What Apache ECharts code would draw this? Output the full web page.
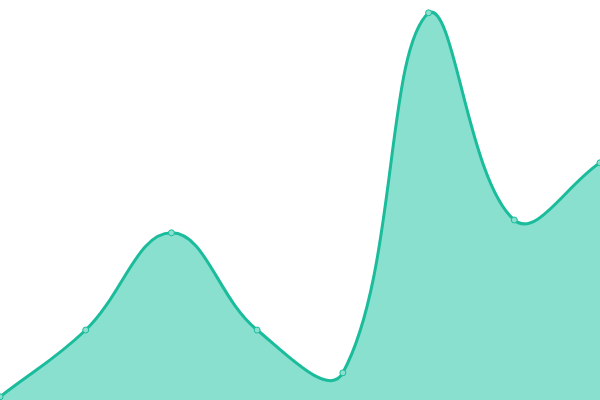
<!DOCTYPE html>
<html><head><meta charset="utf-8">
<script src="https://cdn.jsdelivr.net/npm/echarts@6/dist/echarts.min.js"></script>
<style>html,body{margin:0;padding:0;}#c{width:600px;height:400px;}</style>
</head><body><div id="c"></div>
<script>
const categories = ['1','2','3','4','5','6','7','8'];
const values = [0.8, 17.5, 41.8, 17.5, 6.8, 96.8, 45, 59.3];
const tension = 0.4;

function buildPaths(api, rect) {
  const pts = values.map((v, i) => api.coord([i, v]));
  const n = pts.length;
  const cps = pts.map((p, i) => {
    const prev = pts[i - 1] || p, next = pts[i + 1] || p;
    const d01 = Math.hypot(p[0] - prev[0], p[1] - prev[1]);
    const d12 = Math.hypot(next[0] - p[0], next[1] - p[1]);
    const sum = d01 + d12 || 1;
    const fa = tension * d01 / sum, fb = tension * d12 / sum;
    const cap = (q) => [
      Math.min(Math.max(q[0], rect.x), rect.x + rect.width),
      Math.min(Math.max(q[1], rect.y), rect.y + rect.height)
    ];
    return {
      before: cap([p[0] - fa * (next[0] - prev[0]), p[1] - fa * (next[1] - prev[1])]),
      after: cap([p[0] + fb * (next[0] - prev[0]), p[1] + fb * (next[1] - prev[1])])
    };
  });
  let d = 'M' + pts[0][0] + ',' + pts[0][1];
  for (let i = 1; i < n; i++) {
    const c1 = cps[i - 1].after, c2 = cps[i].before, p = pts[i];
    d += ' C' + c1[0] + ',' + c1[1] + ' ' + c2[0] + ',' + c2[1] + ' ' + p[0] + ',' + p[1];
  }
  const base0 = api.coord([0, 0]), baseN = api.coord([n - 1, 0]);
  const area = d + ' L' + baseN[0] + ',' + baseN[1] + ' L' + base0[0] + ',' + base0[1] + ' Z';
  return {line: d, area: area};
}

const chart = echarts.init(document.getElementById('c'));
chart.setOption({
  animation: false,
  grid: {left: 0, right: 0, top: 0, bottom: 0},
  xAxis: {type: 'category', data: categories, boundaryGap: false, show: false},
  yAxis: {type: 'value', min: 0, max: 100, show: false},
  series: [{
    type: 'custom',
    data: values.map((v, i) => [i, v]),
    clip: false,
    renderItem: function (params, api) {
      if (params.dataIndex !== 0) return null;
      const paths = buildPaths(api, params.coordSys);
      return {
        type: 'group',
        children: [
          {type: 'path', shape: {pathData: paths.area}, style: {fill: '#8ae0cf', stroke: null}},
          {type: 'path', shape: {pathData: paths.line}, style: {fill: null, stroke: '#1abc9c', lineWidth: 3}}
        ]
      };
    }
  }, {
    type: 'scatter',
    data: values,
    symbol: 'circle',
    symbolSize: 6,
    itemStyle: {color: '#8ae0cf', borderColor: '#1abc9c', borderWidth: 1, opacity: 1}
  }]
});
</script></body></html>
